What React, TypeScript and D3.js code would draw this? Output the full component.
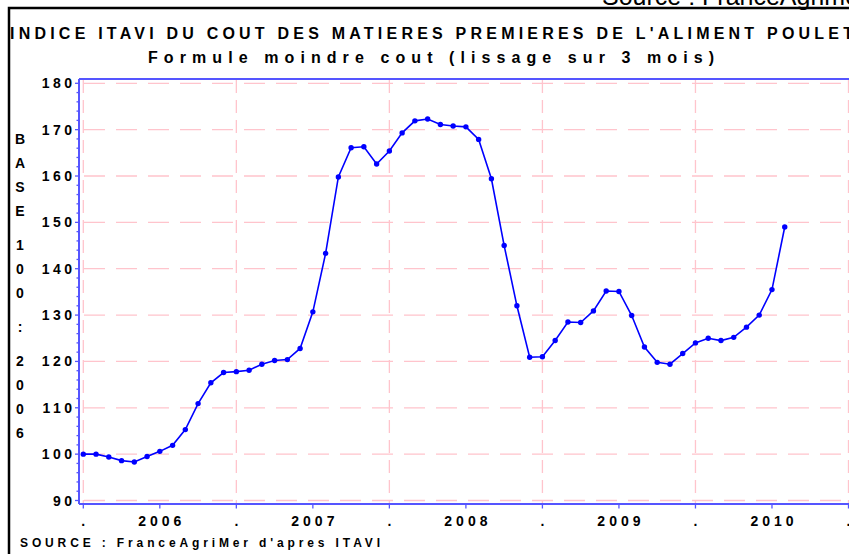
import React from 'react';
import * as d3 from 'd3';

// indice mensuel, janvier 2006 -> aout 2010
const values = [
  100, 100, 99.4, 98.6, 98.3, 99.5, 100.6, 101.9, 105.3, 110.9, 115.4, 117.6,
  117.8, 118.1, 119.4, 120.2, 120.4, 122.8, 130.7, 143.3, 159.8, 166.1, 166.3, 162.6,
  165.4, 169.3, 171.9, 172.3, 171.1, 170.8, 170.6, 167.9, 159.4, 145.0, 132.0, 120.9,
  121.0, 124.5, 128.5, 128.4, 130.9, 135.2, 135.1, 129.9, 123.1, 119.8, 119.4, 121.7,
  124.0, 125.0, 124.5, 125.2, 127.4, 130.0, 135.5, 149.0,
];
const years = ['2006', '2007', '2008', '2009', '2010'];
const yTicks = [90, 100, 110, 120, 130, 140, 150, 160, 170, 180];
const yLabel = 'BASE 100 : 2006';

const title = "INDICE ITAVI DU COUT DES MATIERES PREMIERES DE L'ALIMENT POULET";
const subtitle = 'Formule moindre cout (lissage sur 3 mois)';
const footer = "SOURCE : FranceAgriMer d'apres ITAVI";
const source = 'Source : FranceAgrimer';

const font = 'Liberation Sans, Arial, Helvetica, sans-serif';
const axisBlue = '#5555ff';
const grid = '#ffc4cc';

const App = () => {
  const x = d3.scaleLinear().domain([0, 60]).range([83.3, 848.5]);
  const y = d3.scaleLinear().domain([90, 180]).range([500.5, 83.3]);

  const line = d3
    .line<number>()
    .x((d, i) => x(i))
    .y(d => y(d));

  const yearStarts = d3.range(0, 61, 12);
  const halfYears = d3.range(0, 61, 6);
  const minorY = d3.range(90, 181, 2);

  // lettres empilees du titre vertical
  let cy = 139.3;
  const yChars: { c: string; y: number }[] = [];
  yLabel.split('').forEach(c => {
    if (c === ' ') {
      cy += 10;
      return;
    }
    if (yChars.length > 0) cy += 24;
    yChars.push({ c, y: cy });
  });

  return (
    <svg width={849} height={554} style={{ display: 'block', position: 'absolute', left: 0, top: 0 }}>
      <rect width={849} height={554} fill="white" />

      <text x={602} y={5} fontFamily={font} fontSize={25} fill="black">
        {source}
      </text>
      <rect x={9} y={8} width={900} height={600} fill="none" stroke="black" strokeWidth={2.5} />

      <text x={10} y={39} fontFamily={font} fontSize={16} fontWeight="bold" textLength={843} lengthAdjust="spacing">
        {title}
      </text>
      <text x={148} y={63} fontFamily={font} fontSize={16} fontWeight="bold" textLength={566} lengthAdjust="spacing">
        {subtitle}
      </text>

      {/* grille */}
      {yTicks.map(t => (
        <line key={'gy' + t} x1={84} x2={849} y1={y(t)} y2={y(t)} stroke={grid} strokeWidth={1.3} strokeDasharray="21 11" />
      ))}
      {yearStarts.map(m => (
        <line key={'gx' + m} x1={x(m)} x2={x(m)} y1={80} y2={503} stroke={grid} strokeWidth={1.3} strokeDasharray="13 7" />
      ))}

      {/* axes */}
      <line x1={79} x2={849} y1={79} y2={79} stroke={axisBlue} strokeWidth={2} />
      <line x1={79} x2={79} y1={79} y2={504} stroke={axisBlue} strokeWidth={2} />
      <line x1={79} x2={849} y1={504} y2={504} stroke={axisBlue} strokeWidth={2} />
      {minorY.map(t => (
        <line key={'ty' + t} x1={t % 10 === 0 ? 75 : 76.5} x2={79} y1={y(t)} y2={y(t)} stroke={axisBlue} strokeWidth={1.3} />
      ))}
      {halfYears.map(m => (
        <line key={'tx' + m} x1={x(m)} x2={x(m)} y1={504} y2={508.5} stroke={axisBlue} strokeWidth={1.3} />
      ))}

      {yTicks.map(t => (
        <text key={'ly' + t} x={75.5} y={y(t) + 5} textAnchor="end" fontFamily={font} fontSize={14} fontWeight="bold" letterSpacing={3.5}>
          {t}
        </text>
      ))}
      {yearStarts.map(m => (
        <text key={'dot' + m} x={x(m)} y={526} textAnchor="middle" fontFamily={font} fontSize={14} fontWeight="bold">
          .
        </text>
      ))}
      {years.map((yr, i) => (
        <text key={yr} x={x(i * 12 + 6) + 2} y={526} textAnchor="middle" fontFamily={font} fontSize={14} fontWeight="bold" letterSpacing={4}>
          {yr}
        </text>
      ))}

      {yChars.map((d, i) => (
        <text key={'yl' + i} x={20} y={d.y + 5} textAnchor="middle" fontFamily={font} fontSize={14} fontWeight="bold">
          {d.c}
        </text>
      ))}

      <text x={20} y={547} fontFamily={font} fontSize={12} fontWeight="bold" textLength={360} lengthAdjust="spacing">
        {footer}
      </text>

      {/* serie */}
      <path d={line(values) || ''} fill="none" stroke="#0000ff" strokeWidth={1.6} />
      {values.map((v, i) => (
        <circle key={'p' + i} cx={x(i)} cy={y(v)} r={2.7} fill="#0000ff" />
      ))}
    </svg>
  );
};

export default App;
